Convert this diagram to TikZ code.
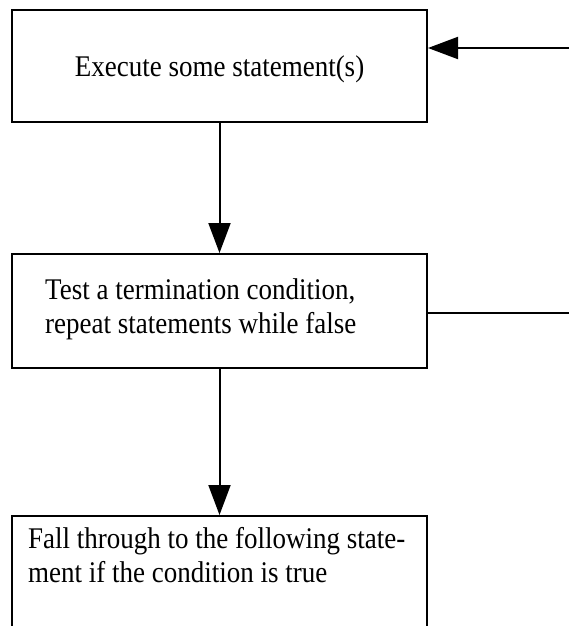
\documentclass[tikz,border=0pt]{standalone}
\usepackage{fontspec}
\setmainfont{Liberation Serif}[FakeStretch=0.9]
\usetikzlibrary{arrows.meta}
\begin{document}
\begin{tikzpicture}[x=1pt,y=-1pt,
  box/.style={draw, rectangle, line width=2pt, minimum width=415pt, inner sep=0pt},
  txt/.style={font=\fontsize{30}{34}\selectfont, inner sep=0pt},
  flow/.style={line width=2pt, -{Triangle[length=30pt,width=22pt]}},
  wire/.style={line width=2pt}]
\useasboundingbox (0,0) rectangle (569,626);
\clip (0,0) rectangle (569,626);

% the three stages of the loop
\node[box, minimum height=112pt] (exec) at (219.5,66) {};
\node[box, minimum height=114pt] (test) at (219.5,311) {};
\node[box, minimum height=114pt] (fall) at (219.5,573) {};

% stage texts
\node[txt, anchor=base] (execT) at (219.5,76) {Execute some statement(s)};
\node[txt, anchor=base west] (testA) at (45,299) {Test a termination condition,};
\node[txt, anchor=base west] (testB) at (45,333) {repeat statements while false};
\node[txt, anchor=base west] (fallA) at (28,548) {Fall through to the following state-};
\node[txt, anchor=base west] (fallB) at (28,582) {ment if the condition is true};

% loop-back stubs on the right
\coordinate (back) at (569,48);
\coordinate (out) at (569,313);
\draw[flow] (back) -- (back -| exec.east);
\draw[wire] (out -| test.east) -- (out);

% downward flow
\draw[flow] (exec.south) -- (test.north);
\draw[flow] (test.south) -- (fall.north);
\end{tikzpicture}
\end{document}
